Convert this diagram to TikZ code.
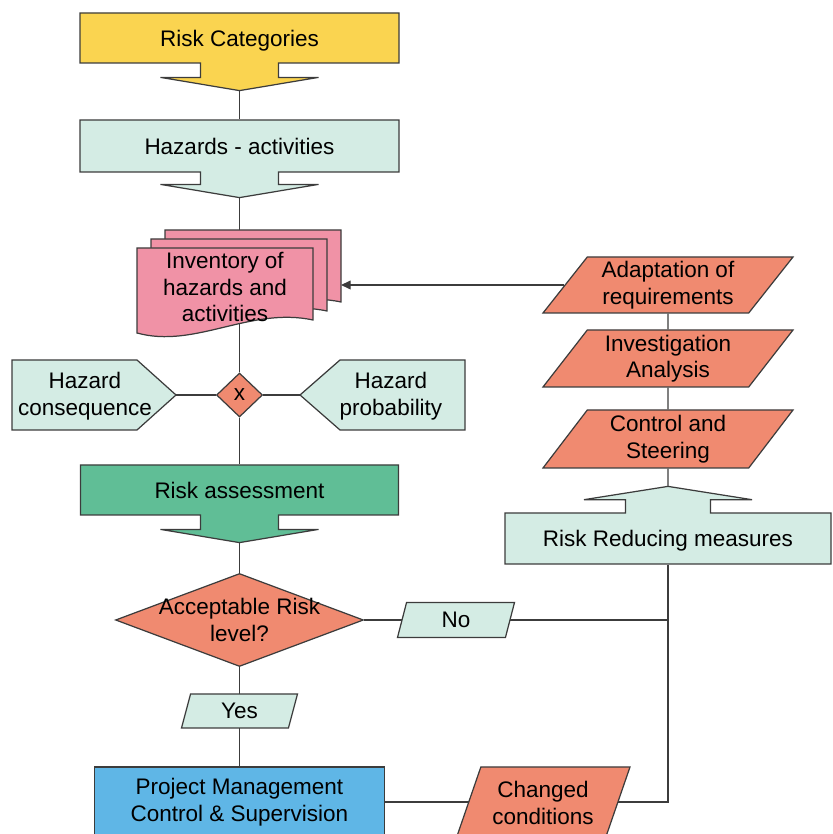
\documentclass[tikz,border=0pt]{standalone}
\usepackage{fontspec}
\setmainfont{Liberation Sans}
\usetikzlibrary{shapes.arrows,shapes.geometric,arrows.meta,backgrounds}

\definecolor{amarelo}{RGB}{250,212,80}
\definecolor{verdeclaro}{RGB}{212,236,228}
\definecolor{verde}{RGB}{96,190,150}
\definecolor{salmao}{RGB}{240,138,112}
\definecolor{rosa}{RGB}{240,146,166}
\definecolor{azul}{RGB}{95,182,230}
\definecolor{borda}{RGB}{60,60,60}

\begin{document}
\begin{tikzpicture}[
    linha/.style={draw=borda, line width=0.7pt},
    seta/.style={
        arrow box, draw=borda, line width=0.7pt, inner sep=0pt,
        minimum width=6.38cm, minimum height=1cm,
        arrow box arrows={north:0pt, south:0pt, east:0pt, west:0pt},
        arrow box shaft width=1.56cm, arrow box head extend=0.8cm,
        arrow box tip angle=161, align=center, text depth=0pt
    },
    para/.style={
        trapezium, trapezium left angle=47, trapezium right angle=133,
        trapezium stretches body=true, draw=borda, line width=0.7pt,
        fill=salmao, inner sep=0pt, align=center
    },
    caixa/.style={rectangle, draw=borda, line width=0.7pt, align=center},
    losango/.style={diamond, draw=borda, line width=0.7pt, fill=salmao, inner sep=0pt},
    folha/.style={draw=borda, line width=0.7pt, fill=rosa},
    ponta/.style={draw=borda, line width=0.7pt, fill=verdeclaro}
    ]
    \useasboundingbox (0,0) rectangle (16.66,16.68);
    \fontsize{12.8}{15.1}\selectfont

    \node [seta, fill=amarelo, arrow box arrows={south:0.54cm}] (cat) at (4.79, 15.92) {Risk Categories};
    \node [seta, fill=verdeclaro, minimum height=1.04cm, arrow box arrows={south:0.5cm}] (haz) at (4.79, 13.76) {Hazards - activities};

    \foreach \dx/\dy in {0.56/0.36, 0.28/0.18, 0/0}
        \draw [folha, shift={(\dx,\dy)}] (2.74, 11.72) -- (6.26, 11.72) -- (6.26, 10.28)
            .. controls (5.0, 10.55) and (3.9, 9.7) .. (2.74, 10.02) -- cycle;
    \node [align=center] (inv) at (4.5, 10.94) {Inventory of\\hazards and\\activities};
    \coordinate (invback) at (6.82, 10.98);

    \draw [ponta] (0.24, 9.48) -- (2.74, 9.48) -- (3.52, 8.78) coordinate (cons) -- (2.74, 8.08) -- (0.24, 8.08) -- cycle;
    \node [align=center] (hcons) at (1.7, 8.76) {Hazard\\consequence};
    \draw [ponta] (9.3, 9.48) -- (6.8, 9.48) -- (6.0, 8.78) coordinate (prob) -- (6.8, 8.08) -- (9.3, 8.08) -- cycle;
    \node [align=center] (hprob) at (7.82, 8.76) {Hazard\\probability};
    \node [losango, minimum width=0.92cm, minimum height=0.88cm] (vezes) at (4.79, 8.78) {x};

    \node [seta, fill=verde, minimum width=6.36cm, arrow box arrows={south:0.54cm}] (aval) at (4.79, 6.88) {Risk assessment};
    \node [losango, minimum width=4.96cm, minimum height=1.86cm] (aceita) at (4.79, 4.28) {};
    \node [align=center] (aceitatxt) at (aceita) {Acceptable Risk\\level?};
    \node [para, fill=verdeclaro, trapezium left angle=60, trapezium right angle=120,
        minimum width=2.32cm, minimum height=0.68cm] (sim) at (4.79, 2.46) {Yes};
    \node [caixa, fill=azul, minimum width=5.8cm, minimum height=1.4cm] (gestao) at (4.79, 0.64) {Project Management\\Control \& Supervision};

    \node [para, fill=verdeclaro, trapezium left angle=60, trapezium right angle=120,
        minimum width=2.34cm, minimum height=0.7cm] (nao) at (9.12, 4.28) {No};
    \node [para, trapezium left angle=60, trapezium right angle=120, inner xsep=-3pt,
        minimum width=3.48cm, minimum height=1.44cm] (mudou) at (10.86, 0.62) {Changed\\conditions};

    \node [para, minimum width=5cm, minimum height=1.12cm] (adapt) at (13.36, 10.98) {Adaptation of\\requirements};
    \node [para, minimum width=5cm, minimum height=1.14cm] (invest) at (13.36, 9.51) {Investigation\\Analysis};
    \node [para, minimum width=5cm, minimum height=1.16cm] (contr) at (13.36, 7.9) {Control and\\Steering};
    \node [seta, fill=verdeclaro, minimum width=6.52cm, minimum height=1.02cm,
        arrow box shaft width=1.7cm, arrow box head extend=0.83cm, arrow box tip angle=162,
        arrow box arrows={north:0.52cm}] (reduz) at (13.36, 5.91) {Risk Reducing measures};

    \begin{scope}[on background layer]
        \draw [linha] (cat.south arrow tip) -- (haz.north);
        \draw [linha] (haz.south arrow tip) -- (vezes.north);
        \draw [linha] (cons) -- (vezes.west);
        \draw [linha] (vezes.east) -- (prob);
        \draw [linha] (vezes.south) -- (aval.north);
        \draw [linha] (aval.south arrow tip) -- (aceita.north);
        \draw [linha] (aceita.south) -- (gestao.north);
        \draw [linha] (aceita.east) -- (aceita.east -| reduz.south);
        \draw [linha] (reduz.south) |- (gestao.east);
        \draw [linha] (reduz.north arrow tip) -- (contr.south);
        \draw [linha] (contr.north) -- (invest.south);
        \draw [linha] (invest.north) -- (adapt.south);
        \draw [linha, -{Triangle[length=5.5pt, width=5pt]}] (adapt.west) -- (adapt.west -| invback);
    \end{scope}
\end{tikzpicture}
\end{document}
